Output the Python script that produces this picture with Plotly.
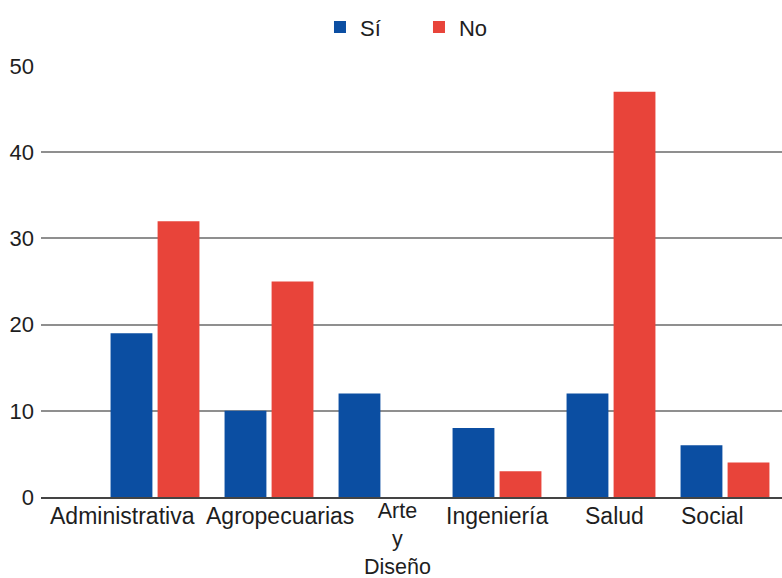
import plotly.graph_objects as go

# Respuestas por área
areas = ["Administrativa", "Agropecuarias", "Arte y Diseño", "Ingeniería", "Salud", "Social"]
area_labels = ["Administrativa", "Agropecuarias", "Arte<br>y<br>Diseño", "Ingeniería", "Salud", "Social"]
si_values = [19, 10, 12, 8, 12, 6]
no_values = [32, 25, 0, 3, 47, 4]
y_ticks = [0, 10, 20, 30, 40, 50]

BLUE = "#0B4EA2"
RED = "#E8443A"
TEXT = "#1e1e1e"
FONT = "Liberation Sans, Arial, sans-serif"

# Category names are written under the axis as annotations so the long
# names can be nudged sideways (px) and the stacked label kept compact.
label_shift = [-33, 11, 14, 0, 3, -13]
label_drop = [-5, -5, -1, -5, -5, -5]
label_size = [23, 23, 21.5, 23, 23, 23]

fig = go.Figure()
fig.add_trace(go.Bar(name="Sí", x=areas, y=si_values, marker=dict(color=BLUE, line=dict(width=0))))
fig.add_trace(go.Bar(name="No", x=areas, y=no_values, marker=dict(color=RED, line=dict(width=0))))

for area, text, dx, dy, size in zip(areas, area_labels, label_shift, label_drop, label_size):
    fig.add_annotation(
        x=area,
        xref="x",
        y=0,
        yref="paper",
        text=text,
        showarrow=False,
        xanchor="center",
        yanchor="top",
        xshift=dx,
        yshift=dy,
        borderpad=0,
        align="center",
        font=dict(family=FONT, size=size, color=TEXT),
    )

fig.update_layout(
    width=782,
    height=578,
    margin=dict(l=41, r=0, t=66, b=81),
    paper_bgcolor="white",
    plot_bgcolor="white",
    barmode="group",
    bargap=0.175,
    bargroupgap=0.11,
    font=dict(family=FONT, size=23, color=TEXT),
    legend=dict(
        orientation="h",
        x=0.3765,
        xanchor="left",
        y=1.09,
        yanchor="middle",
        font=dict(size=22, color=TEXT),
        itemwidth=30,
        entrywidth=54,
        entrywidthmode="pixels",
        tracegroupgap=0,
    ),
    showlegend=True,
)

fig.update_xaxes(
    type="category",
    range=[-1.0, 5.5],
    showticklabels=False,
    automargin=False,
    showgrid=False,
    showline=True,
    linecolor="#444444",
    linewidth=2,
    ticks="",
)

fig.update_yaxes(
    range=[0, 50],
    tickmode="array",
    tickvals=y_ticks,
    automargin=False,
    showgrid=True,
    gridcolor="#8f8f8f",
    gridwidth=1.5,
    zeroline=False,
    showline=False,
    ticks="",
    ticklabelstandoff=6,
    tickfont=dict(size=22, color=TEXT),
)

fig.write_html("out.html")
